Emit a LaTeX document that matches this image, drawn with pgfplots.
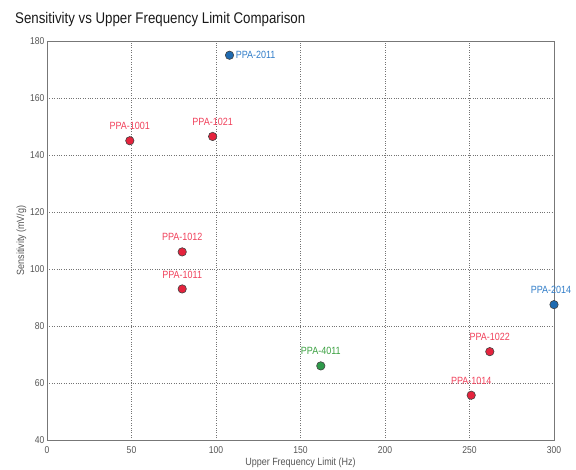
\documentclass[border=0pt]{standalone}
\usepackage{fontspec}
\setmainfont[FakeStretch=0.86]{Liberation Sans}
\usepackage{pgfplots}
\pgfplotsset{compat=1.18}

\definecolor{ptred}{HTML}{E5233D}
\definecolor{ptblue}{HTML}{1E6AB0}
\definecolor{ptgreen}{HTML}{2E9A4A}
\definecolor{lbred}{HTML}{F0405A}
\definecolor{lbblue}{HTML}{2F7CC8}
\definecolor{lbgreen}{HTML}{3AA040}
\definecolor{axgray}{HTML}{777777}
\definecolor{ticktxt}{HTML}{555555}

\begin{document}
\begin{tikzpicture}[x=1bp,y=1bp]
\useasboundingbox (-47,-30) rectangle (529,440);
\begin{axis}[
  at={(0,0)}, anchor=south west,
  scale only axis, width=507bp, height=399bp,
  xmin=0, xmax=300, ymin=40, ymax=180,
  xtick={0,50,...,300}, ytick={40,60,...,180},
  grid=major,
  major grid style={dotted, line width=0.6pt, color=black!55},
  axis line style={axgray, line width=0.9pt},
  tick style={draw=none},
  tick label style={font=\fontsize{10}{11}\selectfont, color=ticktxt},
  /pgf/number format/assume math mode=true,
  xticklabel style={yshift=-3bp},
  yticklabel style={xshift=1bp},
  xlabel={Upper Frequency Limit (Hz)},
  ylabel={Sensitivity (mV/g)},
  label style={font=\fontsize{10.5}{12}\selectfont, color=ticktxt},
  xlabel style={yshift=2bp},
  ylabel style={yshift=-3bp},
  clip=false,
  nodes near coords,
  point meta=explicit symbolic,
  every node near coord/.append style={font=\fontsize{10.5}{12}\selectfont, inner sep=1bp},
]
% red series
\addplot[only marks, mark=*, mark size=4.2bp,
  mark options={fill=ptred, draw=black!75, line width=0.6pt},
  every node near coord/.append style={color=lbred, anchor=south, yshift=9.5bp}]
  coordinates {
    (49,145) [PPA-1001]
    (98,146.5) [PPA-1021]
    (80,106) [PPA-1012]
    (80,93) [PPA-1011]
    (262,71) [PPA-1022]
    (251,55.7) [PPA-1014]
  };
% blue series, label on the right
\addplot[only marks, mark=*, mark size=4.2bp,
  mark options={fill=ptblue, draw=black!75, line width=0.6pt},
  every node near coord/.append style={color=lbblue, anchor=west, xshift=5bp}]
  coordinates {
    (108,175) [PPA-2011]
  };
% blue series, label above
\addplot[only marks, mark=*, mark size=4.2bp,
  mark options={fill=ptblue, draw=black!75, line width=0.6pt},
  every node near coord/.append style={color=lbblue, anchor=south, yshift=9.5bp, xshift=-3bp}]
  coordinates {
    (300,87.5) [PPA-2014]
  };
% green series
\addplot[only marks, mark=*, mark size=4.2bp,
  mark options={fill=ptgreen, draw=black!75, line width=0.6pt},
  every node near coord/.append style={color=lbgreen, anchor=south, yshift=9.5bp}]
  coordinates {
    (162,66) [PPA-4011]
  };
\end{axis}
\node[anchor=base west, inner sep=0pt, font=\fontsize{15.5}{18}\selectfont, color=black!90] at (-32,416) {Sensitivity vs Upper Frequency Limit Comparison};
\end{tikzpicture}
\end{document}
